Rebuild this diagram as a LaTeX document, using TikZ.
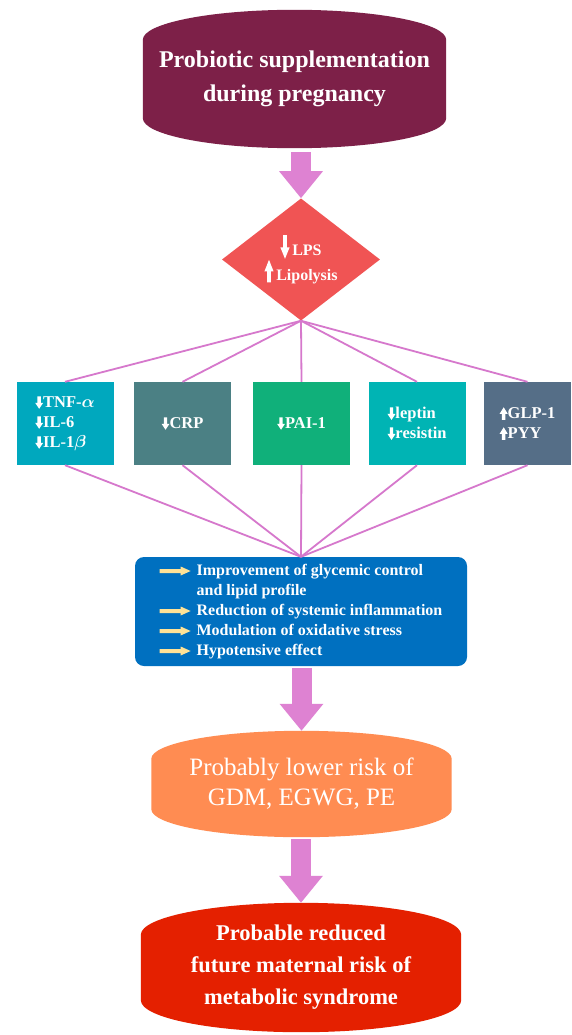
\documentclass[tikz,border=0pt]{standalone}
\usepackage{fontspec}
\setmainfont{Liberation Serif}
\usepackage{tikz}
\usetikzlibrary{positioning, arrows.meta, shapes.geometric, calc, backgrounds}

\definecolor{plum}{RGB}{125,32,72}
\definecolor{coral}{RGB}{240,84,84}
\definecolor{pinkarr}{RGB}{222,130,210}
\definecolor{pinkline}{RGB}{214,120,204}
\definecolor{cTNF}{RGB}{0,168,190}
\definecolor{cCRP}{RGB}{75,128,132}
\definecolor{cPAI}{RGB}{16,176,122}
\definecolor{cLEP}{RGB}{0,180,180}
\definecolor{cGLP}{RGB}{85,110,135}
\definecolor{effblue}{RGB}{0,112,192}
\definecolor{riskorange}{RGB}{255,140,82}
\definecolor{syndred}{RGB}{228,32,0}
\definecolor{yarrow}{RGB}{255,226,150}

% small white arrows in front of the markers
\newcommand{\dnarr}[1][]{\tikz[baseline=0pt,sharp corners,#1]\fill[white]
  (-1.7pt,11pt) -- (1.7pt,11pt) -- (1.7pt,4.5pt) -- (4pt,4.5pt)
  -- (0pt,-1.5pt) -- (-4pt,4.5pt) -- (-1.7pt,4.5pt) -- cycle;}
\newcommand{\uparr}[1][]{\tikz[baseline=0pt,sharp corners,#1]\fill[white]
  (-1.7pt,-1pt) -- (1.7pt,-1pt) -- (1.7pt,5pt) -- (4pt,5pt)
  -- (0pt,11.5pt) -- (-4pt,5pt) -- (-1.7pt,5pt) -- cycle;}
% yellow bullet arrow
\newcommand{\yarr}{\tikz[baseline=0pt,sharp corners]\fill[yarrow]
  (0pt,2.5pt) -- (21pt,2.5pt) -- (21pt,0pt) -- (31pt,4.5pt)
  -- (21pt,9pt) -- (21pt,6.5pt) -- (0pt,6.5pt) -- cycle;}
% barrel outline behind a node
\newcommand{\barrelfill}[3]{%
  \fill[#2] let \p1=(#1.north west), \p2=(#1.south east),
    \n1={(\x2-\x1)/2} in
    (\x1,{\y1-#3}) arc[start angle=180, end angle=0,
      x radius=\n1, y radius=#3]
    -- (\x2,{\y2+#3}) arc[start angle=0, end angle=-180,
      x radius=\n1, y radius=#3] -- cycle;}

\begin{document}
\begin{tikzpicture}[x=1pt, y=1pt,
    barrel/.style={inner sep=0pt, align=center, text=white,
      font=\bfseries\fontsize{24}{34}\selectfont},
    markbox/.style={rectangle, inner sep=0pt, minimum width=97pt,
      minimum height=83pt, text=white, align=left,
      font=\bfseries\boldmath\fontsize{16.5}{20}\selectfont},
    fatarrow/.style={draw=pinkarr, line width=20pt,
      -{Triangle[length=27pt 0 0, width=42pt 0 0]}},
    link/.style={draw=pinkline, line width=1.8pt}
  ]
  \useasboundingbox (0,0) rectangle (571,-1035);

  % ── Main column ──
  \node[barrel, minimum width=303pt, minimum height=138pt]
    (supp) at (294.5,-79) {Probiotic supplementation\\during pregnancy};
  \node[diamond, fill=coral, minimum width=158pt, minimum height=108pt,
        inner sep=0pt, text=white, align=center,
        font=\bfseries\fontsize{16}{20}\selectfont]
    (dia) at (301,-259.5)
    {\dnarr[xscale=1.15,yscale=1.9]\,LPS\\\uparr[xscale=1.15,yscale=1.8]\,Lipolysis};

  % ── Markers ──
  \node[markbox, fill=cTNF] (tnf) at (65,-423.5)
    {\dnarr TNF-$\alpha$\\\dnarr IL-6\\\dnarr IL-1$\beta$};
  \node[markbox, fill=cCRP] (crp) at (182.5,-423.5) {\dnarr CRP};
  \node[markbox, fill=cPAI] (pai) at (301.5,-423.5) {\dnarr PAI-1};
  \node[markbox, fill=cLEP] (lep) at (417,-423.5)
    {\dnarr leptin\\\dnarr resistin};
  \node[markbox, fill=cGLP, minimum width=87pt] (glp) at (527.5,-423.5)
    {\uparr GLP-1\\\uparr PYY};

  % ── Effects ──
  \node[rectangle, rounded corners=9pt, fill=effblue, text=white,
        minimum width=332pt, minimum height=109pt, inner sep=0pt,
        font=\bfseries\fontsize{16}{20}\selectfont]
    (eff) at (301,-611.5)
    {\begin{tabular}{@{}l@{\hspace{6pt}}l@{}}
      \yarr & Improvement of glycemic control\\
            & and lipid profile\\
      \yarr & Reduction of systemic inflammation\\
      \yarr & Modulation of oxidative stress\\
      \yarr & Hypotensive effect
    \end{tabular}};

  \node[barrel, minimum width=300pt, minimum height=106pt,
        font=\fontsize{25}{30}\selectfont]
    (risk) at (301.5,-784) {Probably lower risk of\\GDM, EGWG, PE};
  \node[barrel, minimum width=320pt, minimum height=129pt,
        font=\bfseries\fontsize{22.5}{32}\selectfont]
    (meta) at (301,-967.5)
    {Probable reduced\\future maternal risk of\\metabolic syndrome};

  \begin{scope}[on background layer]
    \fill[white] (0,0) rectangle (571,-1035);
    \barrelfill{supp}{plum}{30pt}
    \barrelfill{risk}{riskorange}{28pt}
    \barrelfill{meta}{syndred}{32pt}
  \end{scope}

  % ── Connectors ──
  \draw[fatarrow, shorten <=4pt] (dia.north |- supp.south) -- (dia.north);
  \foreach \m in {tnf, crp, pai, lep, glp} {
    \draw[link] (dia.south) -- (\m.north);
    \draw[link] (\m.south) -- (eff.north);
  }
  \draw[fatarrow, shorten <=2pt] (risk.north |- eff.south) -- (risk.north);
  \draw[fatarrow, shorten <=2pt] (meta.north |- risk.south) -- (meta.north);

\end{tikzpicture}
\end{document}
